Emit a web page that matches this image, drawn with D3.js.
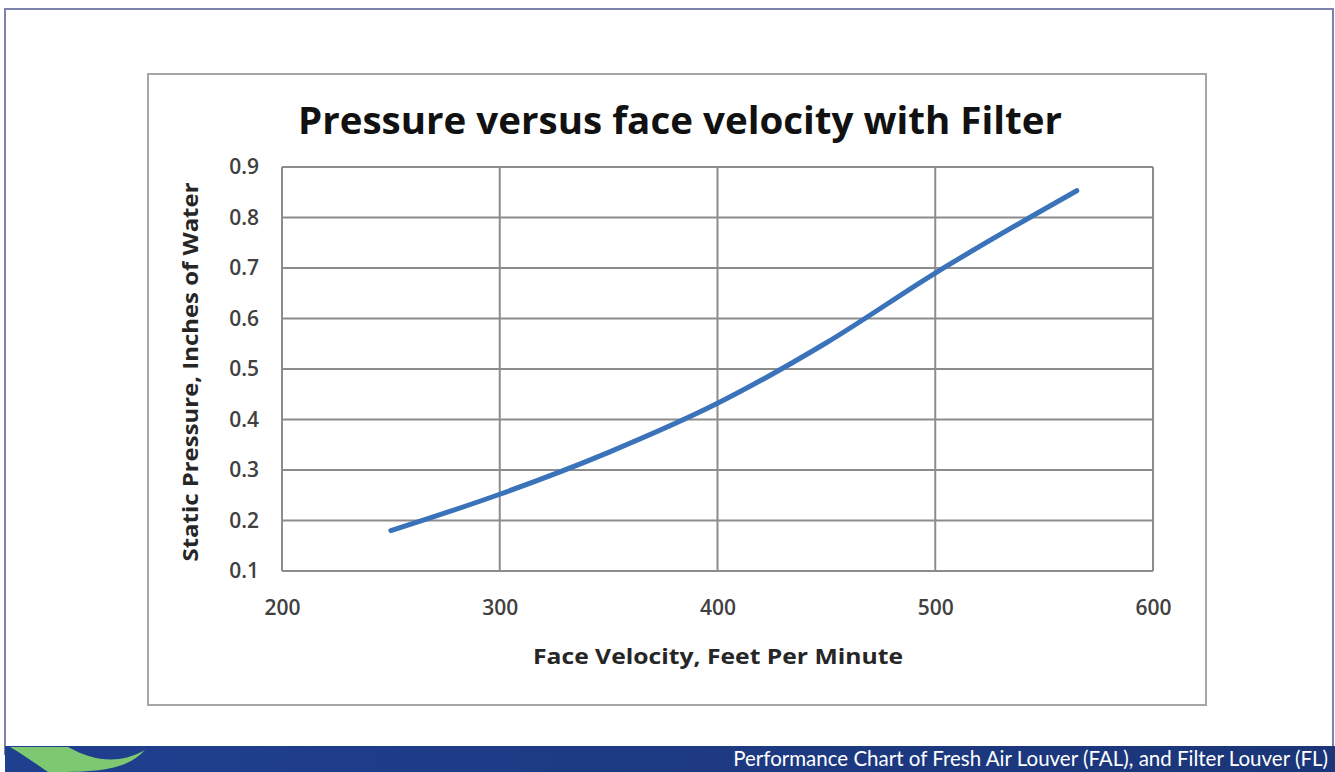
<!DOCTYPE html>
<html><head><meta charset="utf-8">
<script src="https://cdn.jsdelivr.net/npm/d3@7"></script>
<style>html,body{margin:0;padding:0;background:#fff;}svg{display:block;}</style>
</head><body>
<svg id="chart" width="1335" height="772"></svg>
<script>
const chartTitle = "Pressure versus face velocity with Filter";
const xTitle = "Face Velocity, Feet Per Minute";
const yTitle = "Static Pressure, Inches of Water";
const footerText = "Performance Chart of Fresh Air Louver (FAL), and Filter Louver (FL)";
const velocity = [250, 300, 350, 400, 450, 500, 565];
const pressure = [0.18, 0.252, 0.335, 0.432, 0.552, 0.69, 0.853];
const xTicks = [200, 300, 400, 500, 600];
const yTicks = [0.1, 0.2, 0.3, 0.4, 0.5, 0.6, 0.7, 0.8, 0.9];

const svg = d3.select("#chart");
const W = 1335, H = 772;
svg.append("rect").attr("width", W).attr("height", H).attr("fill", "#fff");

// outer slide frame
svg.append("rect").attr("x", 5).attr("y", 9).attr("width", 1328).attr("height", 745)
  .attr("fill", "#fff").attr("stroke", "#7c84ad").attr("stroke-width", 2);

// footer band
const grad = svg.append("defs").append("linearGradient").attr("id", "band").attr("x1", 0).attr("x2", 1);
grad.append("stop").attr("offset", 0).attr("stop-color", "#1f3f8f");
grad.append("stop").attr("offset", 1).attr("stop-color", "#1b3578");
svg.append("rect").attr("x", 5).attr("y", 746).attr("width", 1330).attr("height", 26).attr("fill", "url(#band)");
svg.append("path")
  .attr("d", "M10,747 L68,747 C95,762 120,764 145,750 C130,766 110,772 60,772 L48,772 C35,763 22,754 10,747 Z")
  .attr("fill", "#7dc870");
svg.append("text").attr("x", 1328).attr("y", 766).attr("text-anchor", "end")
  .attr("font-family", "Lato, 'Open Sans', sans-serif").attr("font-size", 20.5)
  .attr("fill", "#fff").text(footerText);

// chart frame
svg.append("rect").attr("x", 148).attr("y", 74).attr("width", 1058).attr("height", 631)
  .attr("fill", "#fff").attr("stroke", "#a6a6a6").attr("stroke-width", 2);

const x = d3.scaleLinear().domain([200, 600]).range([282, 1153]);
const y = d3.scaleLinear().domain([0.1, 0.9]).range([571, 167]);

// gridlines
const grid = svg.append("g").attr("stroke", "#8c8c8c").attr("stroke-width", 2);
grid.selectAll(".gy").data(yTicks).join("line")
  .attr("x1", x(200)).attr("x2", x(600)).attr("y1", d => y(d)).attr("y2", d => y(d));
grid.selectAll(".gx").data(xTicks).join("line")
  .attr("y1", y(0.1)).attr("y2", y(0.9)).attr("x1", d => x(d)).attr("x2", d => x(d));

// axes labels via d3 axes
const font = "'Open Sans', 'DejaVu Sans', sans-serif";
const xAxis = svg.append("g").attr("transform", `translate(0,${y(0.1)})`)
  .call(d3.axisBottom(x).tickValues(xTicks).tickSize(0).tickPadding(29).tickFormat(d3.format("d")));
const yAxis = svg.append("g").attr("transform", `translate(${x(200)},0)`)
  .call(d3.axisLeft(y).tickValues(yTicks).tickSize(0).tickPadding(23).tickFormat(d3.format(".1f")));
[xAxis, yAxis].forEach(a => {
  a.select(".domain").remove();
  a.selectAll("text").attr("font-family", font).attr("font-size", 21)
    .attr("font-weight", 600).attr("fill", "#404040");
});

// line
svg.append("path").datum(velocity.map((v, i) => [v, pressure[i]]))
  .attr("fill", "none").attr("stroke", "#3a73ba").attr("stroke-width", 5)
  .attr("stroke-linecap", "round")
  .attr("d", d3.line().x(d => x(d[0])).y(d => y(d[1])).curve(d3.curveMonotoneX));

// titles
svg.append("text").attr("x", 680).attr("y", 134).attr("text-anchor", "middle")
  .attr("font-family", font).attr("font-weight", 700).attr("font-size", 37)
  .attr("fill", "#111").attr("textLength", 764).attr("lengthAdjust", "spacingAndGlyphs").text(chartTitle);
svg.append("text").attr("x", 718).attr("y", 664).attr("text-anchor", "middle")
  .attr("font-family", font).attr("font-weight", 700).attr("font-size", 22)
  .attr("fill", "#262626").attr("textLength", 370).attr("lengthAdjust", "spacingAndGlyphs").text(xTitle);
svg.append("text").attr("transform", "translate(198,372) rotate(-90)").attr("text-anchor", "middle")
  .attr("font-family", font).attr("font-weight", 700).attr("font-size", 22)
  .attr("fill", "#262626").attr("textLength", 379).attr("lengthAdjust", "spacingAndGlyphs").text(yTitle);
</script>
</body></html>
